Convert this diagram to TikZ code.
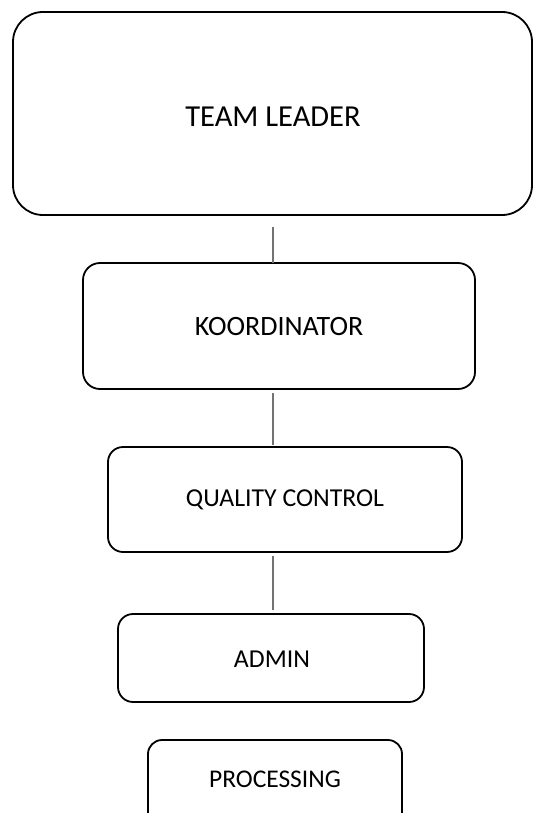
\documentclass[tikz,border=0pt]{standalone}
\usepackage{fontspec}
\setmainfont{Carlito}
\begin{document}
\begin{tikzpicture}[x=1pt,y=-1pt,
  box/.style={draw=black,line width=1.8pt,rounded corners=#1,fill=white},
  box/.default=15pt,
  conn/.style={draw=black!55,line width=1.4pt}]
\useasboundingbox (0,0) rectangle (533,813);
\begin{scope}
\clip (0,0) rectangle (533,813);
% boxes
\draw[box=30pt] (13,12) rectangle (532,215);
\node[font=\fontsize{30.5}{36}\selectfont] (tl) at (273,117) {TEAM LEADER};
\draw[box=17pt] (83,263) rectangle (475,389);
\node[font=\fontsize{28}{34}\selectfont] (ko) at (279,327) {KOORDINATOR};
\draw[box=15pt] (108,447) rectangle (462,552);
\node[font=\fontsize{25.8}{31}\selectfont] (qc) at (285,500) {QUALITY CONTROL};
\draw[box=15pt] (118,614) rectangle (424,702);
\node[font=\fontsize{25.8}{31}\selectfont] (ad) at (272,659) {ADMIN};
\draw[box=14pt] (148,740) rectangle (402,830);
\node[font=\fontsize{25.5}{31}\selectfont] (pr) at (275,779) {PROCESSING};
% connectors
\coordinate (c1a) at (273,227); \coordinate (c1b) at (273,263);
\coordinate (c2a) at (273,393); \coordinate (c2b) at (273,445);
\coordinate (c3a) at (273,556); \coordinate (c3b) at (273,610);
\draw[conn] (c1a) -- (c1b);
\draw[conn] (c2a) -- (c2b);
\draw[conn] (c3a) -- (c3b);
\end{scope}
\end{tikzpicture}
\end{document}
